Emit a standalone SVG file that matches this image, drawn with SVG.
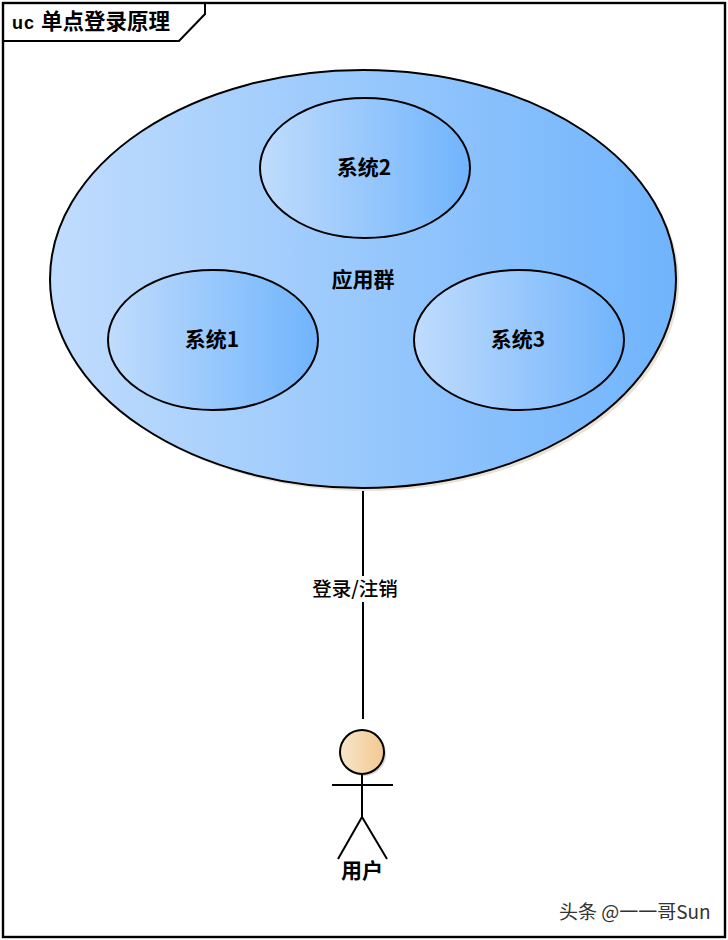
<svg xmlns="http://www.w3.org/2000/svg" width="728" height="940" viewBox="0 0 728 940">
<style>
.t{font-family:"Noto Sans CJK SC","Liberation Sans",sans-serif;font-weight:700;font-size:21px;fill:#000;text-anchor:middle}
.e{stroke:#000;stroke-width:2}
.l{stroke:#000;stroke-width:2;fill:none}
</style>
<defs>
<linearGradient id="g1" x1="0" y1="0" x2="1" y2="0"><stop offset="0" stop-color="#c0dcfd"/><stop offset="1" stop-color="#70b4fc"/></linearGradient>
<linearGradient id="g2" x1="0" y1="0" x2="1" y2="0"><stop offset="0" stop-color="#f8e6cc"/><stop offset="1" stop-color="#f3c88f"/></linearGradient>
</defs>
<rect width="728" height="940" fill="#fff"/>
<g id="frame">
<rect x="3" y="3" width="722" height="934" fill="#fff" stroke="#000" stroke-width="2.4"/>
<path class="l" stroke-width="2.4" d="M3 41H179L205 14V3"/>
<text x="12" y="29" style="font-family:'Noto Sans CJK SC','Liberation Sans',sans-serif;font-weight:700;font-size:20px"><tspan font-family="Liberation Sans" font-size="18" letter-spacing="1">uc </tspan><tspan font-size="21.5">单点登录原理</tspan></text>
</g>
<g id="connectors"><path class="l" d="M363 488V719"/></g>
<g id="app-cluster">
<ellipse cx="366" cy="282" rx="313" ry="209" fill="#e9e2d6"/>
<ellipse class="e" cx="363" cy="279" rx="313" ry="209" fill="url(#g1)"/>
<text class="t" x="363" y="287">应用群</text>
</g>
<g id="system2"><ellipse class="e" cx="365" cy="168" rx="105" ry="70" fill="url(#g1)"/><text class="t" x="364" y="175">系统2</text></g>
<g id="system1"><ellipse class="e" cx="213" cy="340" rx="105" ry="70" fill="url(#g1)"/><text class="t" x="212" y="347">系统1</text></g>
<g id="system3"><ellipse class="e" cx="519" cy="340" rx="105" ry="70" fill="url(#g1)"/><text class="t" x="518" y="347">系统3</text></g>
<g id="label-login">
<rect x="312" y="576" width="86" height="26" fill="#fff"/>
<text x="355" y="596" style="font-family:'Noto Sans CJK SC','Liberation Sans',sans-serif;font-size:19.5px;font-weight:500;text-anchor:middle">登录/注销</text>
</g>
<g id="user">
<circle cx="364" cy="754" r="22" fill="#d8d4d0"/>
<circle class="e" cx="362" cy="752" r="22" fill="url(#g2)"/>
<path class="l" d="M362 774V817M332 785H393M338 859L362 817L387 859"/>
<text class="t" x="362" y="878">用户</text>
</g>
<g id="watermark"><text x="559" y="919" style="font-family:'Noto Sans CJK SC','Liberation Sans',sans-serif;font-size:19px;fill:#333">头条 @一一哥Sun</text></g>
</svg>
